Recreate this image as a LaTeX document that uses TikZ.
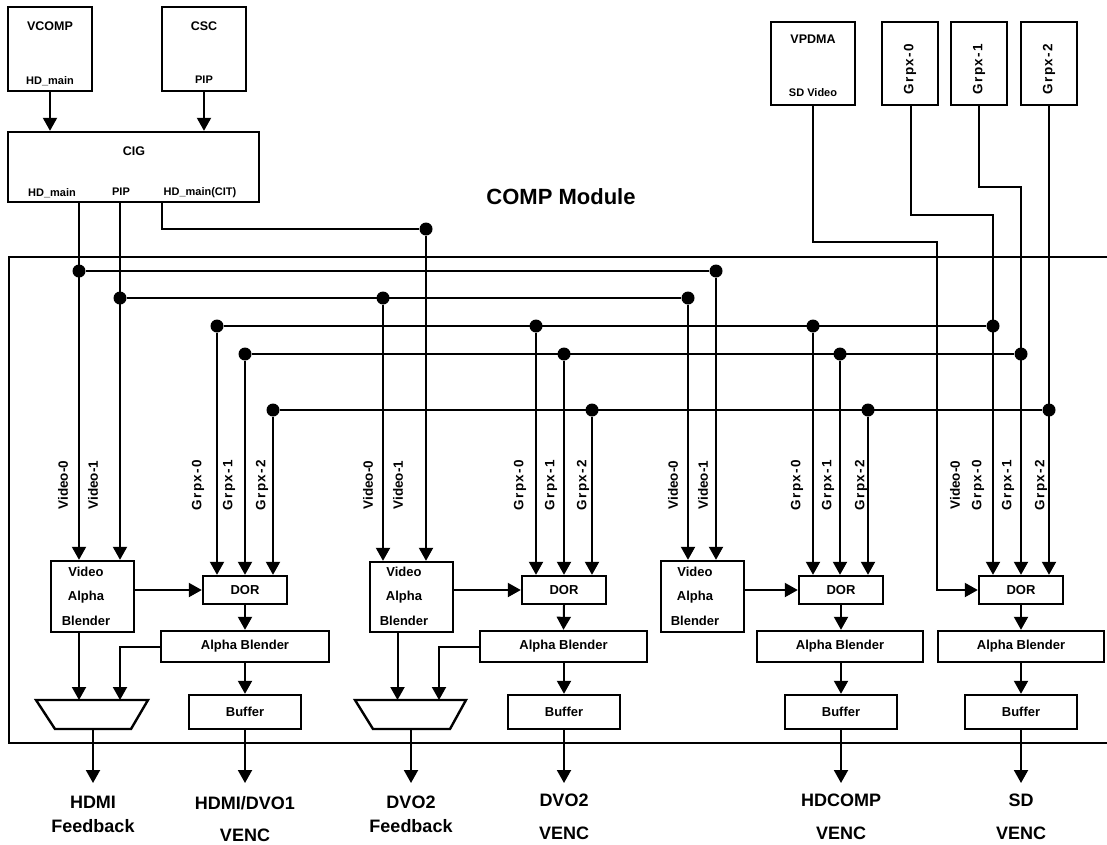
\documentclass[tikz,border=0pt]{standalone}
\usepackage{fontspec}
\setmainfont{Liberation Sans}
\usetikzlibrary{arrows.meta}
\begin{document}
\begin{tikzpicture}[x=1pt,y=-1pt,
  box/.style={draw, line width=2.4pt, inner sep=0pt},
  wire/.style={line width=2pt},
  arr/.style={line width=2pt, -{Triangle[length=13pt,width=14pt]}},
  dot/.style={circle, fill, inner sep=0pt, minimum size=13pt},
  ttl/.style={font=\bfseries\fontsize{12.5}{14}\selectfont},
  sml/.style={font=\bfseries\fontsize{11}{13}\selectfont},
  mid/.style={font=\bfseries\fontsize{13}{15}\selectfont},
  vab/.style={font=\bfseries\fontsize{13}{24.5}\selectfont, align=center},
  vlab/.style={font=\bfseries\fontsize{13.5}{15}\selectfont, rotate=90},
  glab/.style={font=\bfseries\fontsize{13.5}{15}\selectfont\addfontfeature{LetterSpace=10}, rotate=90},
  big/.style={font=\bfseries\fontsize{18}{20}\selectfont},
]
\useasboundingbox (0,0) rectangle (1107,844);

% ---------- top sources ----------
\node[box, minimum width=84pt, minimum height=84pt] (vcomp) at (50,49) {};
\node[ttl] at (50,26) {VCOMP};
\node[sml] at (50,81) {HD\_main};
\node[box, minimum width=84pt, minimum height=84pt] (csc) at (204,49) {};
\node[ttl] at (204,26) {CSC};
\node[sml] at (204,80) {PIP};
\node[box, minimum width=251pt, minimum height=70pt] (cig) at (133.5,167) {};
\node[ttl] at (134,151) {CIG};
\node[sml] at (52,193) {HD\_main};
\node[sml] at (121,192) {PIP};
\node[sml] at (200,193) {HD\_main(CIT)};
\draw[arr] (vcomp.south) -- (vcomp.south |- cig.north);
\draw[arr] (csc.south) -- (csc.south |- cig.north);

\node[box, minimum width=84pt, minimum height=83pt] (vpdma) at (813,63.5) {};
\node[ttl] at (813,39) {VPDMA};
\node[sml] at (813,93) {SD Video};
\node[box, minimum width=56pt, minimum height=83pt] (gs0) at (910,63.5) {};
\node[glab] at (910,69) {Grpx-0};
\node[box, minimum width=56pt, minimum height=83pt] (gs1) at (979,63.5) {};
\node[glab] at (979,69) {Grpx-1};
\node[box, minimum width=56pt, minimum height=83pt] (gs2) at (1049,63.5) {};
\node[glab] at (1049,69) {Grpx-2};

% ---------- module ----------
\draw[wire] (1107,257) -- (9,257) -- (9,743) -- (1107,743);
\node[font=\bfseries\fontsize{22}{24}\selectfont] at (561,197) {COMP Module};

% ---------- blocks ----------
\node[box, minimum width=83pt, minimum height=71pt] (vab1) at (92.5,596.5) {};
\node[vab] at (86,596) {Video\\Alpha\\Blender};
\node[box, minimum width=83pt, minimum height=70pt] (vab2) at (411.5,597) {};
\node[vab] at (404,596) {Video\\Alpha\\Blender};
\node[box, minimum width=83pt, minimum height=71pt] (vab3) at (702.5,596.5) {};
\node[vab] at (695,596) {Video\\Alpha\\Blender};

\node[box, mid, minimum width=84pt, minimum height=28pt] (dor1) at (245,590) {DOR};
\node[box, mid, minimum width=84pt, minimum height=28pt] (dor2) at (564,590) {DOR};
\node[box, mid, minimum width=84pt, minimum height=28pt] (dor3) at (841,590) {DOR};
\node[box, mid, minimum width=84pt, minimum height=28pt] (dor4) at (1021,590) {DOR};

\node[box, mid, minimum width=168pt, minimum height=31pt] (ab1) at (245,646.5) {Alpha Blender};
\node[box, mid, minimum width=167pt, minimum height=31pt] (ab2) at (563.5,646.5) {Alpha Blender};
\node[box, mid, minimum width=166pt, minimum height=31pt] (ab3) at (840,646.5) {Alpha Blender};
\node[box, mid, minimum width=166pt, minimum height=31pt] (ab4) at (1021,646.5) {Alpha Blender};

\node[box, mid, minimum width=112pt, minimum height=34pt] (buf1) at (245,712) {Buffer};
\node[box, mid, minimum width=112pt, minimum height=34pt] (buf2) at (564,712) {Buffer};
\node[box, mid, minimum width=112pt, minimum height=34pt] (buf3) at (841,712) {Buffer};
\node[box, mid, minimum width=112pt, minimum height=34pt] (buf4) at (1021,712) {Buffer};

% trapezoids
\draw[box] (36,700) -- (148,700) -- (131,729) -- (55,729) -- cycle;
\coordinate (t1top) at (92,700);
\coordinate (t1bot) at (93,729);
\draw[box] (355,700) -- (466,700) -- (450,729) -- (373,729) -- cycle;
\coordinate (t2top) at (411,700);
\coordinate (t2bot) at (411,729);

% ---------- bus dots ----------
\node[dot] (hA) at (79,271) {};
\node[dot] (hB) at (716,271) {};
\node[dot] (pA) at (120,298) {};
\node[dot] (pB) at (383,298) {};
\node[dot] (pC) at (688,298) {};
\node[dot] (cit) at (426,229) {};
\node[dot] (g0a) at (217,326) {};
\node[dot] (g0b) at (536,326) {};
\node[dot] (g0c) at (813,326) {};
\node[dot] (g0d) at (993,326) {};
\node[dot] (g1a) at (245,354) {};
\node[dot] (g1b) at (564,354) {};
\node[dot] (g1c) at (840,354) {};
\node[dot] (g1d) at (1021,354) {};
\node[dot] (g2a) at (273,410) {};
\node[dot] (g2b) at (592,410) {};
\node[dot] (g2c) at (868,410) {};
\node[dot] (g2d) at (1049,410) {};

\coordinate (k0) at (993,215);
\coordinate (k1) at (1021,187);
\coordinate (k2) at (937,242);

% ---------- connectors ----------
\draw[arr] (cig.south -| hA) -- (vab1.north -| hA);
\draw[arr] (cig.south -| pA) -- (vab1.north -| pA);
\draw[arr] ([xshift=28.5pt]cig.south) |- (cit) -- (vab2.north -| cit);

\draw[wire] (hA) -- (hB);
\draw[arr] (hB) -- (vab3.north -| hB);
\draw[wire] (pA) -- (pC);
\draw[arr] (pB) -- (vab2.north -| pB);
\draw[arr] (pC) -- (vab3.north -| pC);

\draw[wire] (g0a) -- (g0d);
\draw[wire] (g1a) -- (g1d);
\draw[wire] (g2a) -- (g2d);
\draw[arr] (g0a) -- (dor1.north -| g0a);
\draw[arr] (g1a) -- (dor1.north -| g1a);
\draw[arr] (g2a) -- (dor1.north -| g2a);
\draw[arr] (g0b) -- (dor2.north -| g0b);
\draw[arr] (g1b) -- (dor2.north -| g1b);
\draw[arr] (g2b) -- (dor2.north -| g2b);
\draw[arr] (g0c) -- (dor3.north -| g0c);
\draw[arr] (g1c) -- (dor3.north -| g1c);
\draw[arr] (g2c) -- (dor3.north -| g2c);

\draw[arr] ([xshift=1pt]gs0.south) |- (k0) -- (dor4.north -| k0);
\draw[arr] (gs1.south) |- (k1) -- (dor4.north -| k1);
\draw[arr] (gs2.south) -- (dor4.north -| gs2.south);
\draw[arr] (vpdma.south) |- (k2) |- (dor4.west);

\draw[arr] (vab1.east |- dor1.west) -- (dor1.west);
\draw[arr] (vab2.east |- dor2.west) -- (dor2.west);
\draw[arr] (vab3.east |- dor3.west) -- (dor3.west);

\draw[arr] (dor1.south) -- (ab1.north);
\draw[arr] (dor2.south) -- (ab2.north);
\draw[arr] (dor3.south) -- (ab3.north -| dor3.south);
\draw[arr] (dor4.south) -- (ab4.north);
\draw[arr] (ab1.south) -- (buf1.north);
\draw[arr] (ab2.south -| buf2.north) -- (buf2.north);
\draw[arr] (ab3.south -| buf3.north) -- (buf3.north);
\draw[arr] (ab4.south) -- (buf4.north);

\draw[arr] (vab1.south -| hA) -- (t1top -| hA);
\draw[arr] (ab1.west) -| (t1top -| pA);
\draw[arr] ([xshift=-14pt]vab2.south) -- ([xshift=-14pt]vab2.south |- t2top);
\draw[arr] (ab2.west) -| ([xshift=28pt]t2top);

\coordinate (o1) at (93,783);
\coordinate (o2) at (245,783);
\coordinate (o3) at (411,783);
\coordinate (o4) at (564,783);
\coordinate (o5) at (841,783);
\coordinate (o6) at (1021,783);
\draw[arr] (t1bot) -- (o1);
\draw[arr] (buf1.south) -- (o2);
\draw[arr] (t2bot) -- (o3);
\draw[arr] (buf2.south) -- (o4);
\draw[arr] (buf3.south) -- (o5);
\draw[arr] (buf4.south) -- (o6);

% ---------- vertical labels ----------
\node[vlab] at (63,485) {Video-0};
\node[vlab] at (93,485) {Video-1};
\node[glab] at (198,485) {Grpx-0};
\node[glab] at (229,485) {Grpx-1};
\node[glab] at (262,485) {Grpx-2};
\node[vlab] at (368,485) {Video-0};
\node[vlab] at (398,485) {Video-1};
\node[glab] at (520,485) {Grpx-0};
\node[glab] at (551,485) {Grpx-1};
\node[glab] at (583,485) {Grpx-2};
\node[vlab] at (673,485) {Video-0};
\node[vlab] at (703,485) {Video-1};
\node[glab] at (797,485) {Grpx-0};
\node[glab] at (828,485) {Grpx-1};
\node[glab] at (861,485) {Grpx-2};
\node[vlab] at (955,485) {Video-0};
\node[glab] at (978,485) {Grpx-0};
\node[glab] at (1008,485) {Grpx-1};
\node[glab] at (1041,485) {Grpx-2};

% ---------- output labels ----------
\node[big] at (93,802) {HDMI};
\node[big] at (93,826) {Feedback};
\node[big] at (245,803) {HDMI/DVO1};
\node[big] at (245,835) {VENC};
\node[big] at (411,802) {DVO2};
\node[big] at (411,826) {Feedback};
\node[big] at (564,800) {DVO2};
\node[big] at (564,833) {VENC};
\node[big] at (841,800) {HDCOMP};
\node[big] at (841,833) {VENC};
\node[big] at (1021,800) {SD};
\node[big] at (1021,833) {VENC};
\end{tikzpicture}
\end{document}
